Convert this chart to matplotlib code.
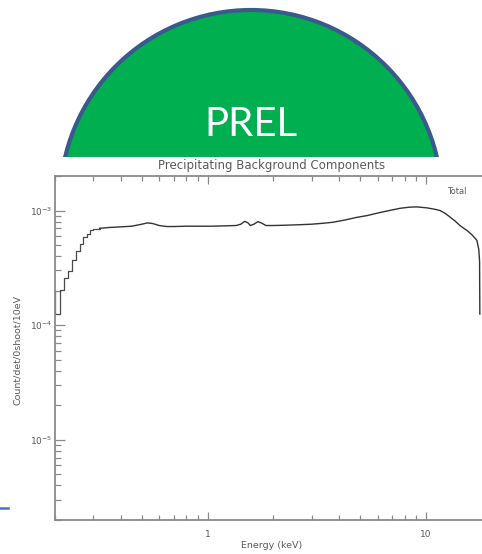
import numpy as np
import matplotlib
matplotlib.use("Agg")
import matplotlib.pyplot as plt
from matplotlib.patches import Circle, Rectangle
from matplotlib.ticker import LogLocator, NullFormatter

# low-energy bins (10 eV wide), drawn as a histogram
step_edges = [0.20, 0.21, 0.22, 0.23, 0.24, 0.25, 0.26, 0.27, 0.28, 0.29, 0.30, 0.31, 0.32]
step_vals = [1.24e-4, 2.02e-4, 2.60e-4, 2.95e-4, 3.72e-4, 4.43e-4, 5.13e-4,
             5.86e-4, 6.27e-4, 6.70e-4, 6.85e-4, 6.95e-4]
start_val = 2.0e-4

# rest of the spectrum (bins too narrow to see, so it reads as a line)
curve_e = [0.32, 0.35, 0.40, 0.45, 0.50, 0.53, 0.56, 0.60, 0.65, 0.70, 0.80, 0.92,
           1.05, 1.20, 1.35, 1.42, 1.48, 1.53, 1.57, 1.63, 1.70, 1.76, 1.85, 2.0,
           2.3, 2.65, 3.0, 3.4, 3.75, 4.3, 4.8, 5.4, 6.0, 6.8, 7.6, 8.4, 9.1, 10.1,
           11.0, 11.6, 12.3, 12.9, 13.6, 14.3, 15.4, 16.3, 17.1, 17.45, 17.6, 17.65]
curve_v = [7.0e-4, 7.1e-4, 7.2e-4, 7.3e-4, 7.6e-4, 7.8e-4, 7.7e-4, 7.4e-4, 7.25e-4,
           7.25e-4, 7.3e-4, 7.3e-4, 7.3e-4, 7.35e-4, 7.4e-4, 7.6e-4, 8.05e-4, 7.8e-4,
           7.4e-4, 7.6e-4, 8.0e-4, 7.8e-4, 7.4e-4, 7.4e-4, 7.45e-4, 7.52e-4, 7.6e-4,
           7.75e-4, 7.9e-4, 8.3e-4, 8.7e-4, 9.05e-4, 9.5e-4, 1.0e-3, 1.045e-3,
           1.07e-3, 1.075e-3, 1.055e-3, 1.025e-3, 1.0e-3, 9.4e-4, 8.75e-4, 8.1e-4,
           7.4e-4, 6.7e-4, 6.1e-4, 5.5e-4, 4.6e-4, 3.6e-4, 1.25e-4]

W, H = 482, 554
fig = plt.figure(figsize=(W / 100, H / 100), dpi=100)

# main plot (right edge runs past the picture, as in the cropped original)
ax = fig.add_axes([55 / W, 1 - 520 / H, (491.7 - 55) / W, (520 - 176) / H])
gray = "#8a8a8a"
tcol = "#5a5a5a"

sx = [step_edges[0]] + step_edges
sy = [start_val] + step_vals + [step_vals[-1]]
ax.plot(sx, sy, drawstyle="steps-post", color="#4a4a4a", lw=0.9)
ax.plot(curve_e, curve_v, color="#333333", lw=1.0)

ax.set_xscale("log")
ax.set_yscale("log")
ax.set_xlim(0.2, 20)
ax.set_ylim(2e-6, 2e-3)

ax.set_xticks([1, 10], ["1", "10"])
ax.xaxis.set_minor_locator(LogLocator(base=10, subs=np.arange(2, 10)))
ax.xaxis.set_minor_formatter(NullFormatter())
ax.set_yticks([1e-5, 1e-4, 1e-3], [r"$10^{-5}$", r"$10^{-4}$", r"$10^{-3}$"])
ax.yaxis.set_minor_locator(LogLocator(base=10, subs=np.arange(2, 10)))
ax.yaxis.set_minor_formatter(NullFormatter())

for s in ["left", "bottom", "top"]:
    ax.spines[s].set_color(gray)
    ax.spines[s].set_linewidth(1.3)
ax.spines["right"].set_visible(False)

ax.tick_params(which="both", direction="in", top=True, right=False, color=gray, width=0.9)
ax.tick_params(axis="x", which="major", length=6, pad=7, labelsize=6.5, labelcolor=tcol)
ax.tick_params(axis="x", which="minor", length=3.5)
ax.tick_params(axis="y", which="major", length=7, pad=2, labelsize=6.5, labelcolor=tcol)
ax.tick_params(axis="y", which="minor", length=4)

fig.text(272 / W, 1 - 166 / H, "Precipitating Background Components",
         ha="center", va="center", fontsize=8.5, color=tcol)
fig.text(272 / W, 1 - 545 / H, "Energy (keV)", ha="center", va="center",
         fontsize=6.8, color=tcol)
fig.text(18 / W, 1 - 350 / H, "Count/det/0shoot/10eV", ha="center", va="center",
         rotation=90, fontsize=6.8, color=tcol)
fig.text(457 / W, 1 - 192 / H, "Total", ha="center", va="center", fontsize=6, color=tcol)

# PREL stamp on top
ov = fig.add_axes([0, 0, 1, 1])
ov.set_xlim(0, W)
ov.set_ylim(H, 0)
ov.axis("off")
ov.patch.set_visible(False)
clip = Rectangle((0, 0), W, 157, transform=ov.transData)
dome = Circle((251, 201), 191, facecolor="#00b050", edgecolor="#3b5a8c", lw=3.0)
ov.add_patch(dome)
dome.set_clip_path(clip)
ov.text(251, 125, "PREL", ha="center", va="center", fontsize=29,
        color="white", family=["Lato", "DejaVu Sans"])
ov.plot([0, 8], [508, 508], color="#4472c4", lw=1.8)

fig.savefig("out.png", dpi=100)
